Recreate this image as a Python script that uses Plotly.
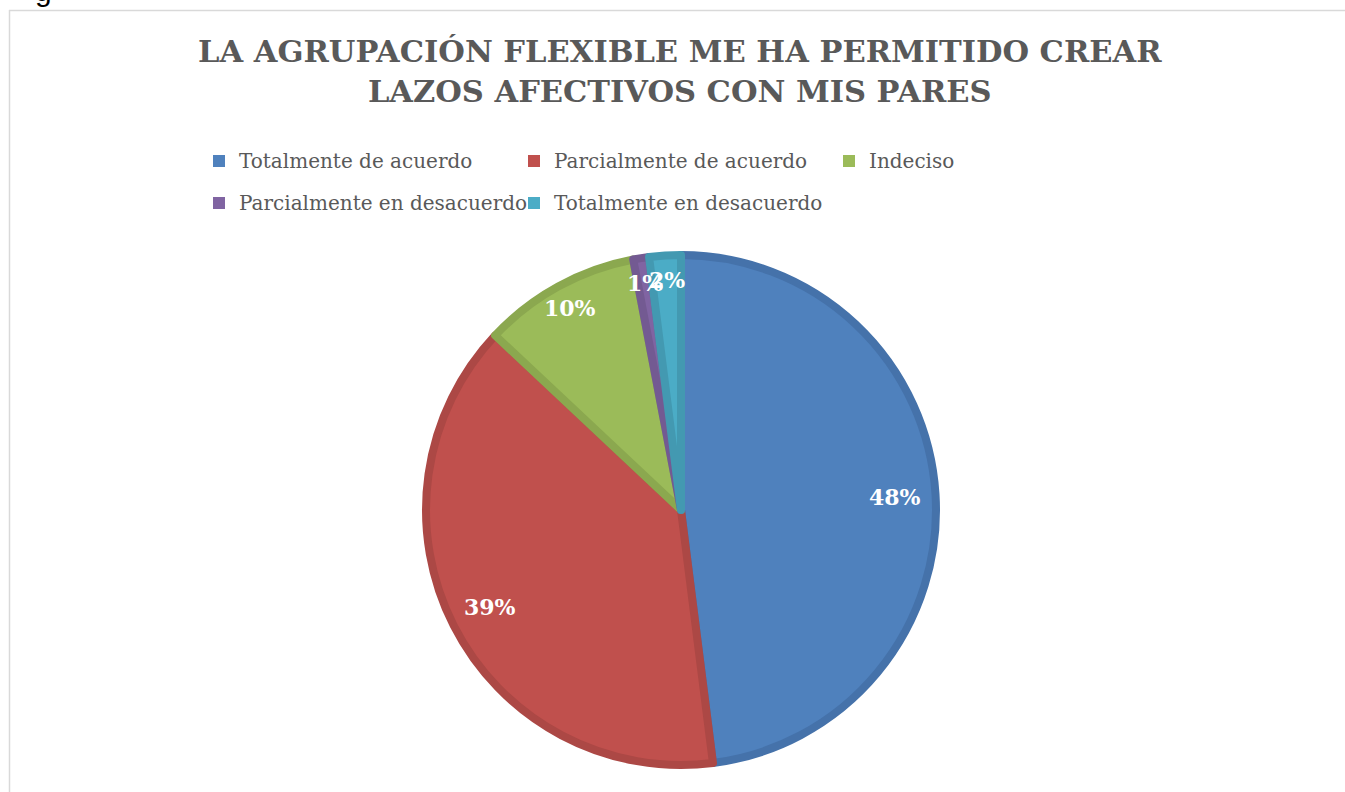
import math
import plotly.graph_objects as go

# ---- data ----
categories = ["Totalmente de acuerdo", "Parcialmente de acuerdo", "Indeciso",
              "Parcialmente en desacuerdo", "Totalmente en desacuerdo"]
percentages = [48, 39, 10, 1, 2]
fill_colors = ["#4F81BD", "#C0504D", "#9BBB59", "#8064A2", "#4BACC6"]
edge_colors = ["#4572AA", "#AC4845", "#8BA84F", "#735A92", "#4399B1"]
title_text = "LA AGRUPACIÓN FLEXIBLE ME HA PERMITIDO CREAR<br>LAZOS AFECTIVOS CON MIS PARES"

# ---- layout geometry (pixels) ----
W, H = 1345, 792
ML, MR, MT, MB = 150, 150, 0, 0
GW, GH = W - ML - MR, H - MT - MB
CX, CY, R = 681, 510, 255
LABEL_R_BIG, LABEL_R_SMALL = 214, 230


def px_x(x):
    return (x - ML) / GW


def px_y(y):
    return (H - MB - y) / GH


legend_labels = ['<span style="font-size:20px;baseline-shift:5px">%s</span>' % c for c in categories]
pie_domain = dict(x=[px_x(CX - R), px_x(CX + R)], y=[px_y(CY + R), px_y(CY - R)])
small_domain = dict(x=[px_x(CX - 20), px_x(CX + 20)], y=[px_y(CY + 20), px_y(CY - 20)])

fig = go.Figure()
# legend source (plain squares), hidden beneath the main pie
fig.add_trace(go.Pie(
    labels=legend_labels, values=percentages, sort=False, direction="clockwise",
    textinfo="none", hoverinfo="skip",
    marker=dict(colors=fill_colors, line=dict(width=0)),
    domain=small_domain, showlegend=True,
))
# main pie
fig.add_trace(go.Pie(
    labels=legend_labels,
    values=percentages,
    sort=False,
    direction="clockwise",
    rotation=0,
    textinfo="none",
    hovertemplate="%{customdata}: %{percent}<extra></extra>",
    customdata=categories,
    marker=dict(colors=fill_colors, line=dict(color=edge_colors, width=8)),
    domain=pie_domain,
    showlegend=False,
))

# percentage labels placed along each slice bisector
total = sum(percentages)
cum = 0
annotations = []
for v in percentages:
    mid = (cum + v / 2) / total * 2 * math.pi
    cum += v
    r = LABEL_R_BIG if v / total >= 0.2 else LABEL_R_SMALL
    x = CX + r * math.sin(mid)
    y = CY - r * math.cos(mid)
    annotations.append(dict(
        x=px_x(x), y=px_y(y), xref="paper", yref="paper",
        text="%d%%" % round(v / total * 100), showarrow=False,
        font=dict(family="DejaVu Serif", size=22, color="white", weight="bold"),
        xanchor="center", yanchor="middle",
    ))

# title
annotations.append(dict(
    x=px_x(680), y=px_y(31), xref="paper", yref="paper", text=title_text, showarrow=False,
    font=dict(family="DejaVu Serif", size=30.5, color="#595959", weight="bold"),
    xanchor="center", yanchor="top", align="center",
))

# clipped fragment of document text above the chart
annotations.append(dict(
    x=px_x(33), y=px_y(9), xref="paper", yref="paper", text="g", showarrow=False,
    font=dict(family="Liberation Sans", size=30, color="black"),
    xanchor="left", yanchor="bottom",
))

shapes = [
    dict(type="line", xref="paper", yref="paper", x0=px_x(9), x1=px_x(W), y0=px_y(10.5), y1=px_y(10.5),
         line=dict(color="#D9D9D9", width=1.5)),
    dict(type="line", xref="paper", yref="paper", x0=px_x(9.5), x1=px_x(9.5), y0=px_y(10), y1=px_y(H),
         line=dict(color="#D9D9D9", width=1.5)),
]

fig.update_layout(
    width=W, height=H,
    margin=dict(l=ML, r=MR, t=MT, b=MB, pad=0),
    paper_bgcolor="white", plot_bgcolor="white",
    showlegend=True,
    legend=dict(orientation="h", x=px_x(199), y=px_y(135), xanchor="left", yanchor="top",
                entrywidth=270, entrywidthmode="pixels",
                font=dict(family="DejaVu Serif", size=30, color="#595959"),
                bgcolor="rgba(0,0,0,0)", traceorder="normal"),
    annotations=annotations,
    shapes=shapes,
)

fig.write_html("out.html", config={"displayModeBar": False},
               post_script="document.body.style.margin='0';document.body.style.overflow='hidden';")
